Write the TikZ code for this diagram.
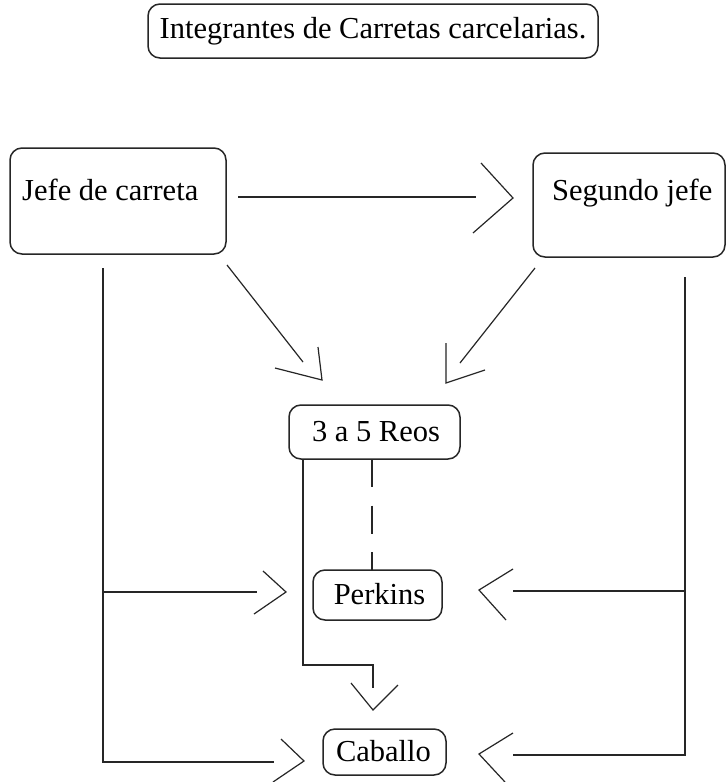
\documentclass[tikz,border=0pt]{standalone}
\usepackage{fontspec}
\setmainfont{Liberation Serif}
\begin{document}
\begin{tikzpicture}[x=1pt,y=-1pt,
  box/.style={draw=black!85, line width=1.5pt, rounded corners=12pt, inner sep=0pt},
  lbl/.style={inner sep=0pt, font=\fontsize{30.5}{36}\selectfont},
  conn/.style={draw=black!85, line width=1.5pt},
  chev/.style={draw=black!85, line width=1.2pt, line join=miter},
  dashconn/.style={draw=black!85, line width=1.5pt, dash pattern=on 28pt off 18.5pt}]
\useasboundingbox[fill=white] (0,0) rectangle (726,782);

% boxes
\node[box, minimum width=450pt, minimum height=54pt] (title) at (373,31) {};
\node[lbl] (titleT) at (373,31) {Integrantes de Carretas carcelarias.};
\node[box, minimum width=216pt, minimum height=106pt] (jefe) at (118,201) {};
\node[lbl, anchor=base west] (jefeT) at (22,200) {Jefe de carreta};
\node[box, minimum width=192pt, minimum height=104pt] (seg) at (629,205) {};
\node[lbl, anchor=base west] (segT) at (552,200) {Segundo jefe};
\node[box, minimum width=171pt, minimum height=54pt] (reos) at (374.5,432) {};
\node[lbl, anchor=base] (reosT) at (376,441) {3 a 5 Reos};
\node[box, minimum width=129pt, minimum height=50pt] (perk) at (377.5,595) {};
\node[lbl, anchor=base] (perkT) at (379.5,604) {Perkins};
\node[box, minimum width=123pt, minimum height=46pt] (cab) at (384.5,752) {};
\node[lbl, anchor=base] (cabT) at (383.5,761) {Caballo};

% connector points
\coordinate (a1) at (238,197);  \coordinate (a2) at (476,197);
\coordinate (b1) at (227,265);  \coordinate (b2) at (303,362);
\coordinate (c1) at (535,268);  \coordinate (c2) at (460,363);
\coordinate (L0) at (103,268);  \coordinate (Lp) at (103,592);
\coordinate (Lc) at (103,762);
\coordinate (Lp2) at (257,592); \coordinate (Lc2) at (274,762);
\coordinate (R0) at (685,277);  \coordinate (Rp) at (685,591);
\coordinate (Rc) at (685,755);
\coordinate (Rp2) at (513,591); \coordinate (Rc2) at (513,755);
\coordinate (s1) at (303,459);  \coordinate (s2) at (303,665);
\coordinate (s3) at (373,665);  \coordinate (s4) at (373,688);
\coordinate (d1) at (372,459);  \coordinate (d2) at (372,570);

% lines
\draw[conn] (a1) -- (a2);
\draw[conn, line width=1.2pt] (b1) -- (b2);
\draw[conn, line width=1.2pt] (c1) -- (c2);
\draw[conn] (L0) -- (Lc) -- (Lc2);
\draw[conn] (Lp) -- (Lp2);
\draw[conn] (R0) -- (Rc) -- (Rc2);
\draw[conn] (Rp) -- (Rp2);
\draw[conn] (s1) -- (s2) -- (s3) -- (s4);
\draw[dashconn] (d1) -- (d2);

% chevron heads
\draw[chev] (481,163) -- (513,198) -- (473,233);
\draw[chev] (318,347) -- (322,380) -- (275,368);
\draw[chev] (446,343) -- (446,383) -- (485,370);
\draw[chev] (263,571) -- (286,592) -- (254,614);
\draw[chev] (281,739) -- (304,761) -- (273,782);
\draw[chev] (513,569) -- (479,590) -- (506,620);
\draw[chev] (513,733) -- (479,754) -- (505,782);
\draw[chev] (351,683) -- (373,710) -- (398,685);
\end{tikzpicture}
\end{document}
